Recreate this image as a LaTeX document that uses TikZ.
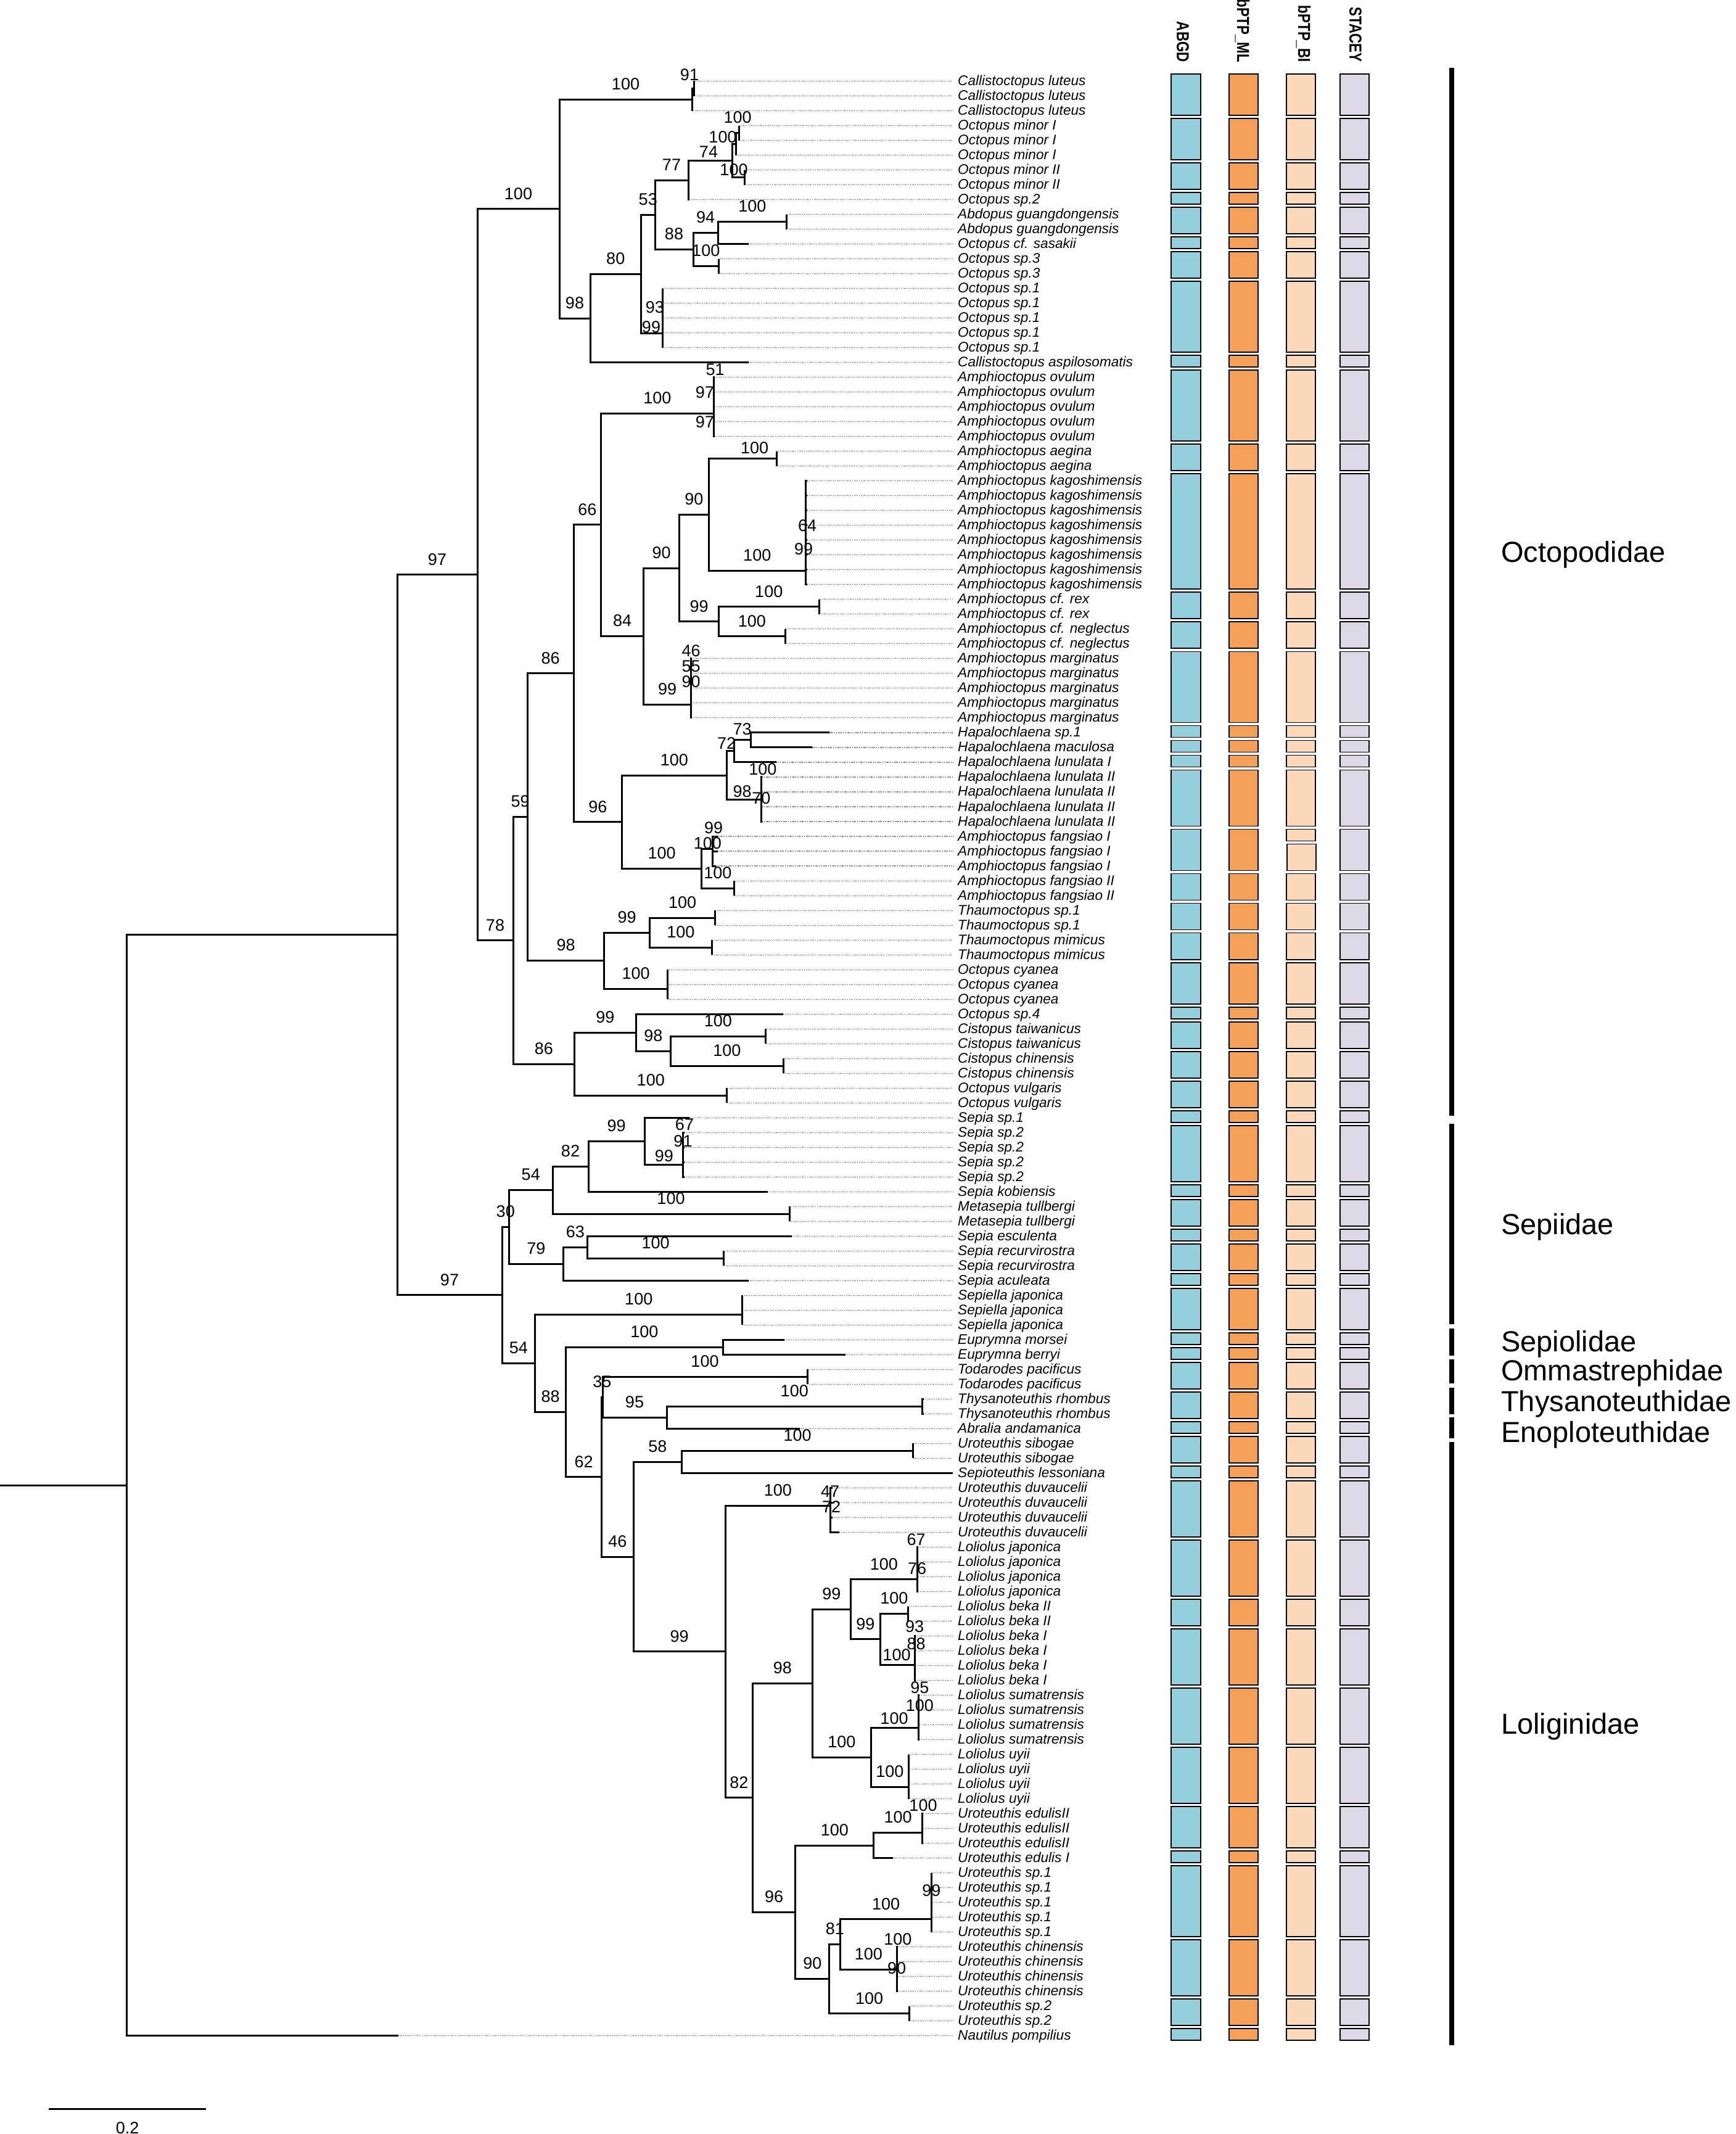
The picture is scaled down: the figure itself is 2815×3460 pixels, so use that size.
\documentclass[tikz,border=0pt]{standalone}
\usepackage{fontspec}
\setmainfont{Liberation Sans}
\newfontfamily\hdrfont{Liberation Sans}[FakeStretch=0.8]
\usetikzlibrary{calc}
\definecolor{cA}{RGB}{149,207,222}
\definecolor{cB}{RGB}{244,160,90}
\definecolor{cC}{RGB}{251,216,186}
\definecolor{cD}{RGB}{221,216,230}
\pgfmathdeclarefunction{rowy}{1}{\pgfmathparse{131.5+24.01*(#1-1)}}
\newcommand\lf[3]{%
  \coordinate (t#1) at (#2,{rowy(#1)});
  \coordinate (e#1) at (1545,{rowy(#1)});
  \node[lbl] (L#1) at (1553,{rowy(#1)+7}) {#3};
  \draw[lead] (t#1) -- (e#1);}
\newcommand\nd[4]{\path let \p1=($(#3)!0.5!(#4)$) in coordinate (#1) at (#2pt,\y1);}
\newcommand\ndy[3]{\coordinate (#1) at (#2,#3);}
\newcommand\brr[2]{\draw[tree] (#1) -- (#1 |- #2) -- (#2);}
\newcommand\brl[3]{\brr{#1}{#2}\path let \p1=(#1 |- #2), \p2=(#2) in node[bs] (s#2) at ({0.5*(\x1+\x2)},{\y2+25pt}) {#3};}
\newcommand\brs[2]{\foreach \c in {#2}{\brr{#1}{\c}}}
\newcommand\bsl[3]{\node[bs] (#1) at (#2) {#3};}
\begin{document}
\begin{tikzpicture}[x=1pt,y=-1pt,
  tree/.style={line width=3pt},
  lead/.style={draw=black!60,line width=1.1pt,dash pattern=on 1.2pt off 1.6pt},
  lbl/.style={anchor=base west,inner sep=0pt,font=\fontsize{22.6}{22.6}\selectfont\itshape},
  bs/.style={inner sep=0pt,font=\fontsize{27}{27}\selectfont},
  bx/.style={draw=black,line width=1.8pt},
  fam/.style={anchor=base west,inner sep=0pt,font=\fontsize{47}{47}\selectfont},
  hdr/.style={anchor=base east,rotate=-90,inner sep=0pt,font=\hdrfont\bfseries\fontsize{28}{28}\selectfont}]
\useasboundingbox (0,0) rectangle (2815,3460);
% ---------------- leaves
\lf{1}{1125}{Callistoctopus luteus}
\lf{2}{1125}{Callistoctopus luteus}
\lf{3}{1122}{Callistoctopus luteus}
\lf{4}{1198.7}{Octopus minor I}
\lf{5}{1198.7}{Octopus minor I}
\lf{6}{1193.7}{Octopus minor I}
\lf{7}{1207}{Octopus minor II}
\lf{8}{1207}{Octopus minor II}
\lf{9}{1118}{Octopus sp.2}
\lf{10}{1275.8}{Abdopus guangdongensis}
\lf{11}{1275.8}{Abdopus guangdongensis}
\lf{12}{1213.6}{Octopus cf. sasakii}
\lf{13}{1165.5}{Octopus sp.3}
\lf{14}{1165.5}{Octopus sp.3}
\foreach \i in {15,...,19}{\lf{\i}{1074.4}{Octopus sp.1}}
\lf{20}{1213.6}{Callistoctopus aspilosomatis}
\foreach \i in {21,...,25}{\lf{\i}{1159}{Amphioctopus ovulum}}
\foreach \i in {26,27}{\lf{\i}{1259.2}{Amphioctopus aegina}}
\foreach \i in {28,...,35}{\lf{\i}{1309}{Amphioctopus kagoshimensis}}
\foreach \i in {36,37}{\lf{\i}{1328}{Amphioctopus cf. rex}}
\foreach \i in {38,39}{\lf{\i}{1273.3}{Amphioctopus cf. neglectus}}
\foreach \i in {40,...,44}{\lf{\i}{1121}{Amphioctopus marginatus}}
\lf{45}{1344.6}{Hapalochlaena sp.1}
\lf{46}{1317.3}{Hapalochlaena maculosa}
\lf{47}{1259.2}{Hapalochlaena lunulata I}
\foreach \i in {48,...,51}{\lf{\i}{1236}{Hapalochlaena lunulata II}}
\lf{52}{1163.8}{Amphioctopus fangsiao I}
\lf{53}{1163.8}{Amphioctopus fangsiao I}
\lf{54}{1161}{Amphioctopus fangsiao I}
\foreach \i in {55,56}{\lf{\i}{1190.4}{Amphioctopus fangsiao II}}
\foreach \i in {57,58}{\lf{\i}{1159.7}{Thaumoctopus sp.1}}
\foreach \i in {59,60}{\lf{\i}{1154}{Thaumoctopus mimicus}}
\foreach \i in {61,62,63}{\lf{\i}{1082.6}{Octopus cyanea}}
\lf{64}{1270}{Octopus sp.4}
\foreach \i in {65,66}{\lf{\i}{1241}{Cistopus taiwanicus}}
\foreach \i in {67,68}{\lf{\i}{1270}{Cistopus chinensis}}
\foreach \i in {69,70}{\lf{\i}{1178.8}{Octopus vulgaris}}
\lf{71}{1118.3}{Sepia sp.1}
\foreach \i in {72,...,75}{\lf{\i}{1110}{Sepia sp.2}}
\lf{76}{1245}{Sepia kobiensis}
\foreach \i in {77,78}{\lf{\i}{1280}{Metasepia tullbergi}}
\lf{79}{1284}{Sepia esculenta}
\foreach \i in {80,81}{\lf{\i}{1173.8}{Sepia recurvirostra}}
\lf{82}{1213.6}{Sepia aculeata}
\foreach \i in {83,84,85}{\lf{\i}{1203.7}{Sepiella japonica}}
\lf{86}{1271.7}{Euprymna morsei}
\lf{87}{1371.2}{Euprymna berryi}
\foreach \i in {88,89}{\lf{\i}{1309}{Todarodes pacificus}}
\foreach \i in {90,91}{\lf{\i}{1498}{Thysanoteuthis rhombus}}
\lf{92}{1296.5}{Abralia andamanica}
\foreach \i in {93,94}{\lf{\i}{1480.6}{Uroteuthis sibogae}}
\lf{95}{1545}{Sepioteuthis lessoniana}
\foreach \i in {96,97,98}{\lf{\i}{1350}{Uroteuthis duvaucelii}}
\lf{99}{1361}{Uroteuthis duvaucelii}
\foreach \i in {100,...,103}{\lf{\i}{1489}{Loliolus japonica}}
\foreach \i in {104,105}{\lf{\i}{1472.3}{Loliolus beka II}}
\foreach \i in {106,...,109}{\lf{\i}{1485}{Loliolus beka I}}
\foreach \i in {110,...,113}{\lf{\i}{1491}{Loliolus sumatrensis}}
\foreach \i in {114,...,117}{\lf{\i}{1473.2}{Loliolus uyii}}
\foreach \i in {118,119,120}{\lf{\i}{1497}{Uroteuthis edulisII}}
\lf{121}{1447.5}{Uroteuthis edulis I}
\foreach \i in {122,...,126}{\lf{\i}{1510.4}{Uroteuthis sp.1}}
\foreach \i in {127,...,130}{\lf{\i}{1456}{Uroteuthis chinensis}}
\foreach \i in {131,132}{\lf{\i}{1474.8}{Uroteuthis sp.2}}
\lf{133}{645.6}{Nautilus pompilius}
% ---------------- internal nodes: Octopodidae
\nd{Aa}{1125}{t1}{t2}
\nd{A1}{1122}{Aa}{t3}
\nd{OmIa}{1198.7}{t4}{t5}
\nd{OmI}{1193.7}{OmIa}{t6}
\nd{OmII}{1207}{t7}{t8}
\nd{A8}{1187}{OmI}{OmII}
\nd{A6}{1116}{A8}{t9}
\nd{Abd}{1275.8}{t10}{t11}
\nd{A10}{1164}{Abd}{t12}
\nd{A11}{1165.5}{t13}{t14}
\nd{A7}{1124}{A10}{A11}
\nd{A4}{1062}{A6}{A7}
\ndy{A5}{1074.4}{540.7}
\nd{A3}{1039.5}{A4}{A5}
\nd{A2}{957}{A3}{t20}
\nd{A}{907}{A1}{A2}
\ndy{Ov}{1157}{670}
\nd{Aeg}{1259.2}{t26}{t27}
\ndy{Kag}{1306.5}{925.4}
\nd{B11}{1149}{Aeg}{Kag}
\nd{Rex}{1328}{t36}{t37}
\nd{Neg}{1273.3}{t38}{t39}
\nd{B12}{1165.5}{Rex}{Neg}
\nd{B9}{1101.7}{B11}{B12}
\ndy{Mar}{1120.7}{1142}
\nd{B8}{1043.6}{B9}{Mar}
\nd{B5}{974.8}{Ov}{B8}
\nd{H2}{1217.8}{t45}{t46}
\nd{H1}{1190.4}{H2}{t47}
\ndy{H3}{1234.3}{1296.8}
\nd{H}{1178}{H1}{H3}
\ndy{F1}{1155}{1376}
\nd{F2}{1190.4}{t55}{t56}
\nd{F}{1137.3}{F1}{F2}
\nd{B6}{1008.8}{H}{F}
\nd{B3}{930}{B5}{B6}
\nd{T1}{1159.7}{t57}{t58}
\nd{T2}{1154}{t59}{t60}
\nd{T}{1053.6}{T1}{T2}
\ndy{Cy}{1082.6}{1603}
\nd{B4}{979.8}{T}{Cy}
\nd{B1}{855.4}{B3}{B4}
\nd{Tw}{1241}{t65}{t66}
\nd{Ch}{1270}{t67}{t68}
\nd{C1}{1087.6}{Tw}{Ch}
\nd{C}{1031.2}{t64}{C1}
\nd{V}{1178.8}{t69}{t70}
\nd{B2}{931.7}{C}{V}
\nd{B}{832}{B1}{B2}
\nd{O}{774}{A}{B}
% ---------------- internal nodes: Decapodiformes
\ndy{S5}{1107.5}{1888.6}
\nd{S4}{1045.3}{t71}{S5}
\nd{S3}{954}{S4}{t76}
\nd{Meta}{1280}{t77}{t78}
\nd{S1}{896}{S3}{Meta}
\nd{Rec}{1173.8}{t80}{t81}
\nd{S6}{952.4}{t79}{Rec}
\nd{S2}{913.4}{S6}{t82}
\nd{S}{825.5}{S1}{S2}
\ndy{Spl}{1203.7}{2131}
\nd{Eup}{1172}{t86}{t87}
\nd{Tod}{1309}{t88}{t89}
\nd{Thy}{1495.5}{t90}{t91}
\nd{P}{1081}{Thy}{t92}
\nd{D5}{977}{Tod}{P}
\nd{Sib}{1480.6}{t93}{t94}
\nd{Q}{1105.8}{Sib}{t95}
\ndy{Duv}{1346.3}{2441}
\ndy{Jap}{1487.2}{2560.7}
\nd{BkII}{1472.3}{t104}{t105}
\ndy{BkI}{1483}{2699}
\nd{R7}{1427.5}{BkII}{BkI}
\nd{R5}{1379.4}{Jap}{R7}
\ndy{Sum}{1489}{2801.5}
\ndy{Uy}{1473.2}{2897.6}
\nd{R6}{1412.6}{Sum}{Uy}
\nd{R3}{1317.3}{R5}{R6}
\ndy{EdII}{1495.5}{2971.6}
\nd{E}{1416.8}{EdII}{t121}
\ndy{Sp1}{1510.4}{3111.9}
\ndy{Chn}{1454}{3193}
\nd{R9}{1362.9}{Sp1}{Chn}
\nd{Sp2}{1474.8}{t131}{t132}
\nd{R8}{1344.6}{R9}{Sp2}
\nd{R4}{1289.9}{E}{R8}
\nd{R2}{1220.2}{R3}{R4}
\nd{R}{1176.3}{Duv}{R2}
\nd{D6}{1027}{Q}{R}
\nd{D4}{975.6}{D5}{D6}
\nd{D3}{917.6}{Eup}{D4}
\nd{D2}{867.8}{Spl}{D3}
\nd{D}{814}{S}{D2}
\nd{G}{644}{O}{D}
\nd{Root}{205}{G}{t133}
\coordinate (Rl) at ($(Root)-(205,0)$);
% ---------------- branches: Octopodidae
\brs{Aa}{t1,t2}
\brr{A1}{Aa} \bsl{x1}{1118,121}{91}
\brr{A1}{t3}
\brs{OmIa}{t4,t5}
\brl{OmI}{OmIa}{100} \brr{OmI}{t6}
\brs{OmII}{t7,t8}
\brr{A8}{OmI} \bsl{x2}{1172,222}{100}
\brr{A8}{OmII} \bsl{x3}{1190,275.7}{100}
\brr{A6}{A8} \bsl{x4}{1149,246}{74}
\brr{A6}{t9}
\brs{Abd}{t10,t11}
\brl{A10}{Abd}{100} \brr{A10}{t12}
\brs{A11}{t13,t14}
\brl{A7}{A10}{94} \brl{A7}{A11}{100}
\brl{A4}{A6}{77} \brl{A4}{A7}{88}
\brs{A5}{t15,t16,t17,t18,t19}
\brl{A3}{A4}{53} \brr{A3}{A5}
\bsl{x5}{1061.9,498.6}{93} \bsl{x6}{1056,530.7}{99}
\brl{A2}{A3}{80} \brr{A2}{t20}
\brl{A}{A1}{100} \brl{A}{A2}{98}
\brl{O}{A}{100} \brl{O}{B}{78}
\brs{Ov}{t21,t22,t23,t24,t25}
\bsl{x7}{1159.7,599.6}{51} \bsl{x8}{1143,636}{97} \bsl{x9}{1143,684.3}{97}
\brs{Aeg}{t26,t27}
\brs{Kag}{t28,t29,t30,t31,t32,t33,t34,t35}
\bsl{x10}{1309,852}{64} \bsl{x11}{1303,890.4}{99}
\brr{B11}{Aeg} \bsl{x12}{1223.6,726.4}{100}
\brl{B11}{Kag}{100}
\brs{Rex}{t36,t37}
\brs{Neg}{t38,t39}
\brl{B12}{Rex}{100} \brl{B12}{Neg}{100}
\brl{B9}{B11}{90} \brl{B9}{B12}{99}
\brs{Mar}{t40,t41,t42,t43,t44}
\bsl{x13}{1120.7,1055}{46} \bsl{x14}{1120.7,1080}{55} \bsl{x15}{1120.7,1105}{90}
\brl{B8}{B9}{90} \brl{B8}{Mar}{99}
\brl{B5}{Ov}{100} \brl{B5}{B8}{84}
\brs{H2}{t45,t46}
\brr{H1}{H2} \bsl{x16}{1203.7,1182}{73}
\brr{H1}{t47}
\brs{H3}{t48,t49,t50,t51}
\bsl{x17}{1236.8,1247.5}{100} \bsl{x18}{1234.3,1294}{70}
\brr{H}{H1} \bsl{x19}{1178,1204.6}{72}
\brr{H}{H3} \bsl{x20}{1203.7,1283.2}{98}
\brs{F1}{t52,t53,t54}
\bsl{x21}{1157.2,1342}{99}
\brs{F2}{t55,t56}
\brr{F}{F1} \bsl{x22}{1147.3,1367}{100}
\brl{F}{F2}{100}
\brl{B6}{H}{100} \brl{B6}{F}{100}
\brl{B3}{B5}{66} \brl{B3}{B6}{96}
\brs{T1}{t57,t58}
\brs{T2}{t59,t60}
\brl{T}{T1}{100} \brl{T}{T2}{100}
\brs{Cy}{t61,t62,t63}
\brl{B4}{T}{99} \brl{B4}{Cy}{100}
\brl{B1}{B3}{86} \brl{B1}{B4}{98}
\brs{Tw}{t65,t66}
\brs{Ch}{t67,t68}
\brl{C1}{Tw}{100} \brl{C1}{Ch}{100}
\brr{C}{t64} \brl{C}{C1}{98}
\brs{V}{t69,t70}
\brl{B2}{C}{99} \brl{B2}{V}{100}
\brl{B}{B1}{59} \brl{B}{B2}{86}
% ---------------- branches: Decapodiformes
\brs{S5}{t72,t73,t74,t75}
\bsl{x23}{1110,1823.2}{67} \bsl{x24}{1107.5,1850}{91}
\brr{S4}{t71} \brr{S4}{S5} \bsl{x25}{1076.8,1874.3}{99}
\brl{S3}{S4}{99} \brr{S3}{t76}
\brs{Meta}{t77,t78}
\brl{S1}{S3}{82} \brl{S1}{Meta}{100}
\brs{Rec}{t80,t81}
\brr{S6}{t79} \brl{S6}{Rec}{100}
\brl{S2}{S6}{63} \brr{S2}{t82}
\brl{S}{S1}{54} \brl{S}{S2}{79}
\brs{Spl}{t83,t84,t85}
\brs{Eup}{t86,t87}
\brs{Tod}{t88,t89}
\brs{Thy}{t90,t91}
\brl{P}{Thy}{100} \brr{P}{t92}
\brl{D5}{Tod}{100} \brl{D5}{P}{95}
\brs{Sib}{t93,t94}
\brl{Q}{Sib}{100} \brr{Q}{t95}
\brs{Duv}{t96,t97,t98,t99}
\bsl{x26}{1346,2418}{47} \bsl{x27}{1348,2443}{72}
\brs{Jap}{t100,t101,t102,t103}
\bsl{x28}{1485.6,2496.4}{67} \bsl{x29}{1487.2,2542.9}{76}
\brs{BkII}{t104,t105}
\brs{BkI}{t106,t107,t108,t109}
\bsl{x30}{1483,2637.5}{93} \bsl{x31}{1485.6,2665}{88}
\brl{R7}{BkII}{100} \brr{R7}{BkI} \bsl{x32}{1454,2682.9}{100}
\brl{R5}{Jap}{100} \brl{R5}{R7}{99}
\brs{Sum}{t110,t111,t112,t113}
\bsl{x33}{1491.4,2736.4}{95} \bsl{x34}{1491.4,2765}{100}
\brs{Uy}{t114,t115,t116,t117}
\brr{R6}{Sum} \bsl{x35}{1450,2786}{100}
\brl{R6}{Uy}{100}
\brl{R3}{R5}{99} \brl{R3}{R6}{100}
\brs{EdII}{t118,t119,t120}
\bsl{x36}{1497,2927.2}{100}
\brl{E}{EdII}{100} \brr{E}{t121}
\brs{Sp1}{t122,t123,t124,t125,t126}
\bsl{x37}{1510.4,3064.9}{99}
\brs{Chn}{t127,t128,t129,t130}
\bsl{x38}{1455.8,3144.4}{100} \bsl{x39}{1454,3191.4}{90}
\brl{R9}{Sp1}{100} \brl{R9}{Chn}{100}
\brs{Sp2}{t131,t132}
\brl{R8}{R9}{81} \brl{R8}{Sp2}{100}
\brl{R4}{E}{100} \brl{R4}{R8}{90}
\brl{R2}{R3}{98} \brl{R2}{R4}{96}
\brl{R}{Duv}{100} \brl{R}{R2}{82}
\brl{D6}{Q}{58} \brl{D6}{R}{99}
\brl{D4}{D5}{35} \brl{D4}{D6}{46}
\brl{D3}{Eup}{100} \brl{D3}{D4}{62}
\brl{D2}{Spl}{100} \brl{D2}{D3}{88}
\brl{D}{S}{30} \brl{D}{D2}{54}
\brl{G}{O}{97} \brl{G}{D}{97}
\brr{Root}{G} \brr{Root}{t133}
\draw[tree] (Rl) -- (Root);
% ---------------- delimitation columns
\foreach \a/\b in {1/3,4/6,7/8,9/9,10/11,12/12,13/14,15/19,20/20,21/25,26/27,28/35,36/37,38/39,40/44,45/45,46/46,47/47,48/51,52/54,55/56,57/58,59/60,61/63,64/64,65/66,67/68,69/70,71/71,72/75,76/76,77/78,79/79,80/81,82/82,83/85,86/86,87/87,88/89,90/91,92/92,93/94,95/95,96/99,100/103,104/105,106/109,110/113,114/117,118/120,121/121,122/126,127/130,131/132,133/133}{
  \draw[bx,fill=cA] (1899.3,{rowy(\a)-11.5}) rectangle (1946.7,{rowy(\b)+7.5});
  \draw[bx,fill=cB] (1992.7,{rowy(\a)-11.5}) rectangle (2040,{rowy(\b)+7.5});
  \ifnum\a=52 \else \draw[bx,fill=cC] (2085.7,{rowy(\a)-11.5}) rectangle (2132.7,{rowy(\b)+7.5}); \fi
  \draw[bx,fill=cD] (2172.7,{rowy(\a)-11.5}) rectangle (2220,{rowy(\b)+7.5});
}
\draw[bx,fill=cC] (2085.7,{rowy(52)-11.5}) rectangle (2132.7,{rowy(52)+7.5});
\draw[bx,fill=cC] (2087,{rowy(53)-11.5}) rectangle (2134,{rowy(54)+7.5});
\node[hdr] (hA) at (1908.3,101) {ABGD};
\node[hdr] (hB) at (2006,101) {bPTP\_ML};
\node[hdr] (hC) at (2105,101) {bPTP\_BI};
\node[hdr] (hD) at (2188.3,101) {STACEY};
% ---------------- family bars and names
\fill (2350.2,110) rectangle (2358.4,1809);
\fill (2350.2,1822) rectangle (2358.4,2146.7);
\fill (2350.2,2154) rectangle (2358.4,2198.3);
\fill (2350.2,2204) rectangle (2358.4,2243.3);
\fill (2350.2,2250) rectangle (2358.4,2292.7);
\fill (2350.2,2298.3) rectangle (2358.4,2331.7);
\fill (2350.2,2338.3) rectangle (2358.4,3316);
\node[fam] (f1) at (2434,911) {Octopodidae};
\node[fam] (f2) at (2434,2001) {Sepiidae};
\node[fam] (f3) at (2434,2191) {Sepiolidae};
\node[fam] (f4) at (2434,2238) {Ommastrephidae};
\node[fam] (f5) at (2434,2288) {Thysanoteuthidae};
\node[fam] (f6) at (2434,2338) {Enoploteuthidae};
\node[fam] (f7) at (2434,2811) {Loliginidae};
% ---------------- scale bar
\coordinate (sb1) at (79,3419.3);
\coordinate (sb2) at (334,3419.3);
\draw[line width=3.3pt] (sb1) -- (sb2);
\node[bs,anchor=base] (sbl) at (206.7,3459) {0.2};
\end{tikzpicture}
\end{document}
